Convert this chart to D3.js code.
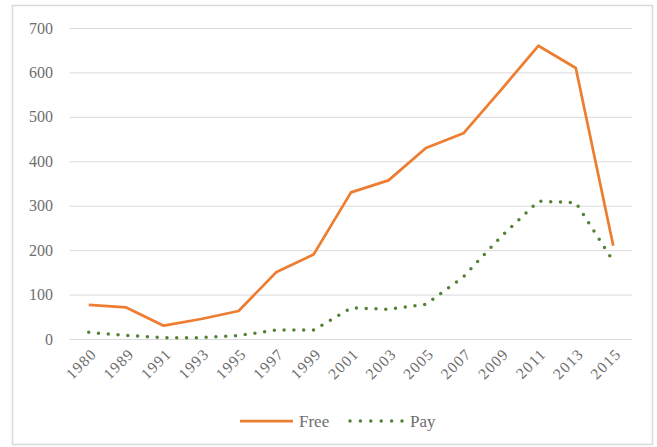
<!DOCTYPE html>
<html><head><meta charset="utf-8">
<script src="https://cdn.jsdelivr.net/npm/d3@7"></script>
<style>body{margin:0;background:#fff}svg{display:block}</style>
</head><body>
<svg id="c" width="657" height="447"></svg>
<script>
const years = ["1980","1989","1991","1993","1995","1997","1999","2001","2003","2005","2007","2009","2011","2013","2015"];
const free = [77,71,30,45,63,150,190,330,357,430,463,560,660,610,210];
const pay = [15,8,3,3,8,20,20,70,67,78,140,230,310,307,175];
const yTicks = [0,100,200,300,400,500,600,700];
const seriesNames = ["Free","Pay"];

const svg = d3.select("#c");
const font = "'Liberation Serif', serif";
svg.append("rect").attr("x",12.5).attr("y",5.5).attr("width",640).attr("height",439)
  .attr("fill","#fff").attr("stroke","#d9d9d9").attr("stroke-width",1.5);

const x = d3.scaleBand().domain(years).range([70,632]);
const y = d3.scaleLinear().domain([0,700]).range([339,28]);
const cx = d => x(d) + x.bandwidth()/2;

const g = svg.append("g");
g.selectAll("line.grid").data(yTicks).join("line")
  .attr("x1",70).attr("x2",632).attr("y1",d=>y(d)+0.5).attr("y2",d=>y(d)+0.5)
  .attr("stroke","#d9d9d9").attr("stroke-width",1);

g.selectAll("text.yt").data(yTicks).join("text")
  .attr("x",53).attr("y",d=>y(d)).attr("dy","0.35em").attr("text-anchor","end")
  .attr("font-family",font).attr("font-size",16).attr("fill","#6e6e6e").text(d=>d);

g.selectAll("text.xt").data(years).join("text")
  .attr("transform",d=>`translate(${cx(d)+5},${351}) rotate(-45)`)
  .attr("text-anchor","end").attr("dy","0.35em")
  .attr("font-family",font).attr("font-size",15.5).attr("letter-spacing",1.2).attr("fill","#6e6e6e").text(d=>d);

const line = d3.line().x((d,i)=>cx(years[i])).y(d=>y(d));
g.append("path").datum(free).attr("d",line).attr("fill","none")
  .attr("stroke","#ED7D31").attr("stroke-width",2.75).attr("stroke-linejoin","round");
g.append("path").datum(pay).attr("d",line).attr("fill","none")
  .attr("stroke","#548235").attr("stroke-width",3.5).attr("stroke-linecap","round")
  .attr("stroke-dasharray","0,9.8");

// legend
const lg = svg.append("g");
lg.append("line").attr("x1",240).attr("x2",293).attr("y1",421).attr("y2",421)
  .attr("stroke","#ED7D31").attr("stroke-width",2.75);
lg.append("text").attr("x",299).attr("y",421).attr("dy","0.35em")
  .attr("font-family",font).attr("font-size",17).attr("fill","#6e6e6e").text(seriesNames[0]);
lg.append("line").attr("x1",350).attr("x2",402).attr("y1",421).attr("y2",421)
  .attr("stroke","#548235").attr("stroke-width",3.5).attr("stroke-linecap","round")
  .attr("stroke-dasharray","0,10.4");
lg.append("text").attr("x",410).attr("y",421).attr("dy","0.35em")
  .attr("font-family",font).attr("font-size",17).attr("fill","#6e6e6e").text(seriesNames[1]);
</script>
</body></html>
